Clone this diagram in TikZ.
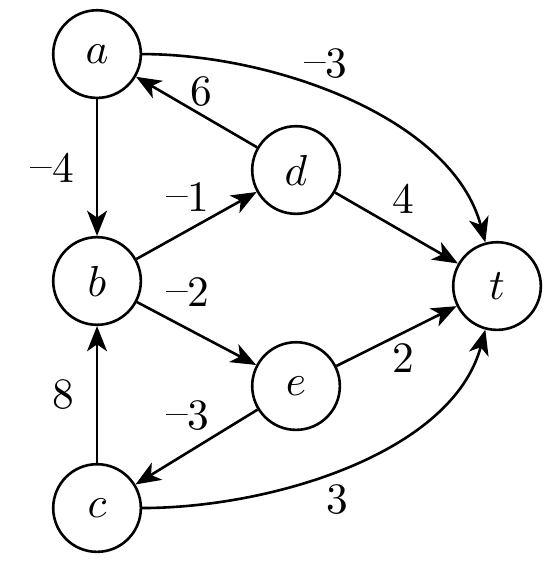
\documentclass[tikz,border=0pt]{standalone}
\usepackage{tikz}
\usetikzlibrary{arrows.meta}

\newcommand{\mn}{\raisebox{0.6pt}{--}}

\begin{document}
\begin{tikzpicture}[
    vertex/.style={circle, draw, line width=0.6pt, minimum size=0.71cm, inner sep=0pt},
    arrow/.style={line width=0.6pt, -{Stealth[length=5.8pt, width=4.6pt, inset=1.6pt]}},
    wt/.style={inner sep=1pt}
]
\useasboundingbox (-0.786,-0.502) rectangle (3.734,4.115);

\node [vertex] (a) at (0,3.677) {$a$};
\node [vertex] (b) at (0,1.839) {$b$};
\node [vertex] (c) at (0,0) {$c$};
\node [vertex] (d) at (1.612,2.738) {$d$};
\node [vertex] (e) at (1.612,0.988) {$e$};
\node [vertex] (t) at (3.24,1.798) {$t$};

\draw [arrow] (a) -- node[wt, midway, left=4pt] (wab) {\mn4} (b);
\draw [arrow] (c) -- node[wt, midway, left=4pt] (wcb) {8} (b);
\draw [arrow] (d) -- node[wt, midway, above, xshift=1pt] (wda) {6} (a);
\draw [arrow] (b) -- node[wt, midway, above=2pt, xshift=-2pt] (wbd) {\mn1} (d);
\draw [arrow] (b) -- node[wt, midway, above=5pt, xshift=-2pt] (wbe) {\mn2} (e);
\draw [arrow] (d) -- node[wt, midway, above=2pt, xshift=1.5pt] (wdt) {4} (t);
\draw [arrow] (e) -- node[wt, midway, below=0.5pt, xshift=1.5pt] (wet) {2} (t);
\draw [arrow] (e) -- node[wt, midway, above=2.5pt, xshift=-2pt] (wec) {\mn3} (c);

% the two long ones
\draw [arrow] (a) to[out=0, in=105, looseness=0.85] node[wt, pos=0.44, above=1.5pt] (wat) {\mn3} (t);
\draw [arrow] (c) to[out=0, in=-105, looseness=0.85] node[wt, pos=0.47, below=2pt] (wct) {3} (t);

\end{tikzpicture}
\end{document}
